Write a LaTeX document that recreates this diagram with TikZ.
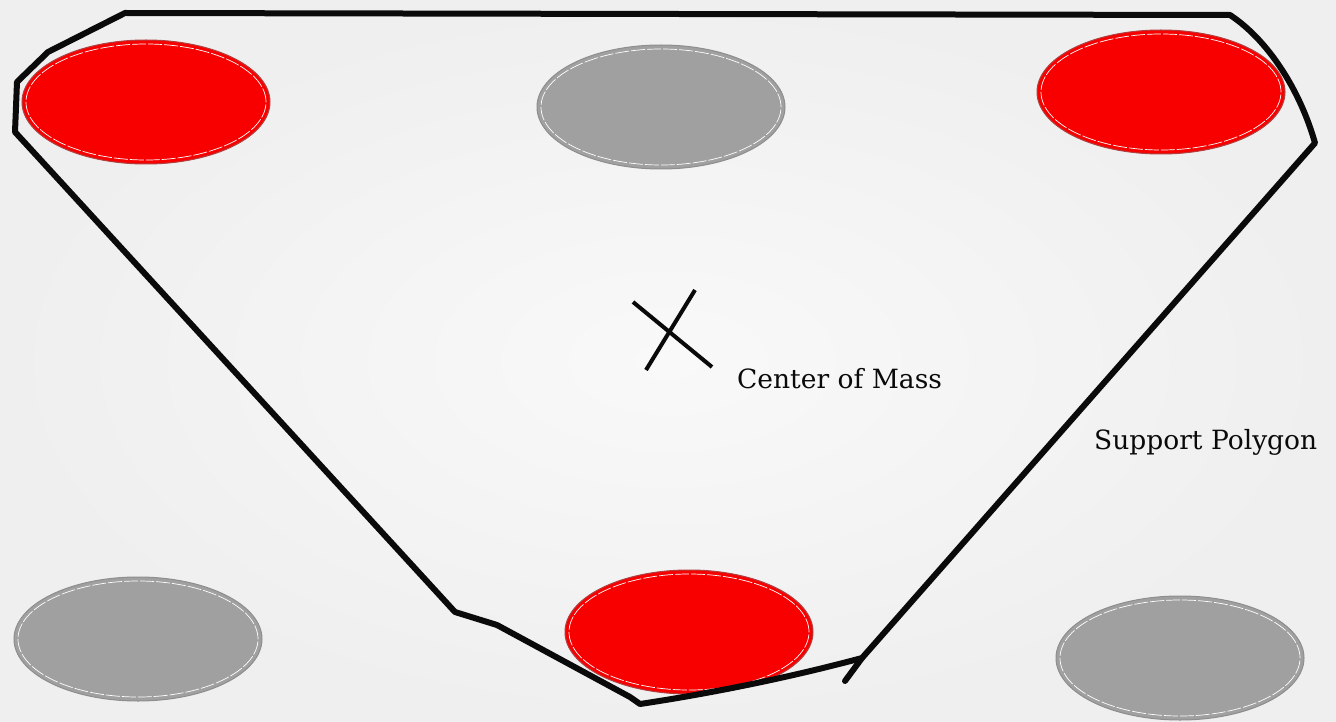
\documentclass[tikz,border=0pt]{standalone}
\usepackage{fontspec}
\setmainfont{DejaVu Serif}
\usepackage{xcolor}
\usepackage{tikz}
\usetikzlibrary{positioning, shapes.geometric}
\definecolor{bgEdge}{HTML}{EFEFEF}
\definecolor{bgMid}{HTML}{F9F9F9}
\definecolor{footRed}{HTML}{F80000}
\definecolor{footRedRim}{HTML}{B04040}
\definecolor{footGray}{HTML}{A0A0A0}
\definecolor{footGrayRim}{HTML}{8E8E8E}
\definecolor{ink}{HTML}{0A0A0A}

\begin{document}
\begin{tikzpicture}[x=1pt, y=-1pt,
    foot/.style={ellipse, minimum width=248pt, minimum height=124pt, inner sep=0pt,
                 line width=1pt},
    stance/.style={foot, fill=footRed, draw=footRedRim},
    swing/.style={foot, fill=footGray, draw=footGrayRim},
    rim/.style={draw=white, line width=0.7pt, dash pattern=on 14pt off 2pt},
    hull/.style={draw=ink, line width=6pt, line join=round, line cap=round},
    tag/.style={font=\fontsize{26.5}{30}\selectfont, text=ink, inner sep=0pt}]
  % background
  \shade[inner color=bgMid, outer color=bgEdge] (0,0) rectangle (1336,722);
  \useasboundingbox (0,0) rectangle (1336,722);

  % feet
  \node[stance] (fl) at (146,102) {};
  \node[swing]  (fm) at (661,107) {};
  \node[stance] (fr) at (1161,92) {};
  \node[swing]  (bl) at (138,639) {};
  \node[stance] (bm) at (689,632) {};
  \node[swing]  (br) at (1180,658) {};
  \foreach \f in {fl,fm,fr,bl,bm,br}
    \draw[rim] (\f.center) ellipse (120pt and 58pt);

  % support polygon
  \draw[hull] (125,13) -- (1230,15) .. controls (1268,40) and (1300,90) .. (1315,143)
    -- (862,658) .. controls (780,680) and (700,695) .. (640,704)
    -- (630,697) -- (497,625) -- (455,612) -- (15,132) -- (17,82) -- (48,52) -- cycle;
  \draw[hull] (862,658) -- (845,681);

  % center of mass
  \coordinate (com) at (672,330);
  \draw[ink, line width=4pt] (633,302) -- (712,367) (695,290) -- (646,370);
  \node[tag, anchor=base west] (comlabel) at (737,388) {Center of Mass};
  \node[tag, anchor=base west] (polylabel) at (1094,449) {Support Polygon};
\end{tikzpicture}
\end{document}
